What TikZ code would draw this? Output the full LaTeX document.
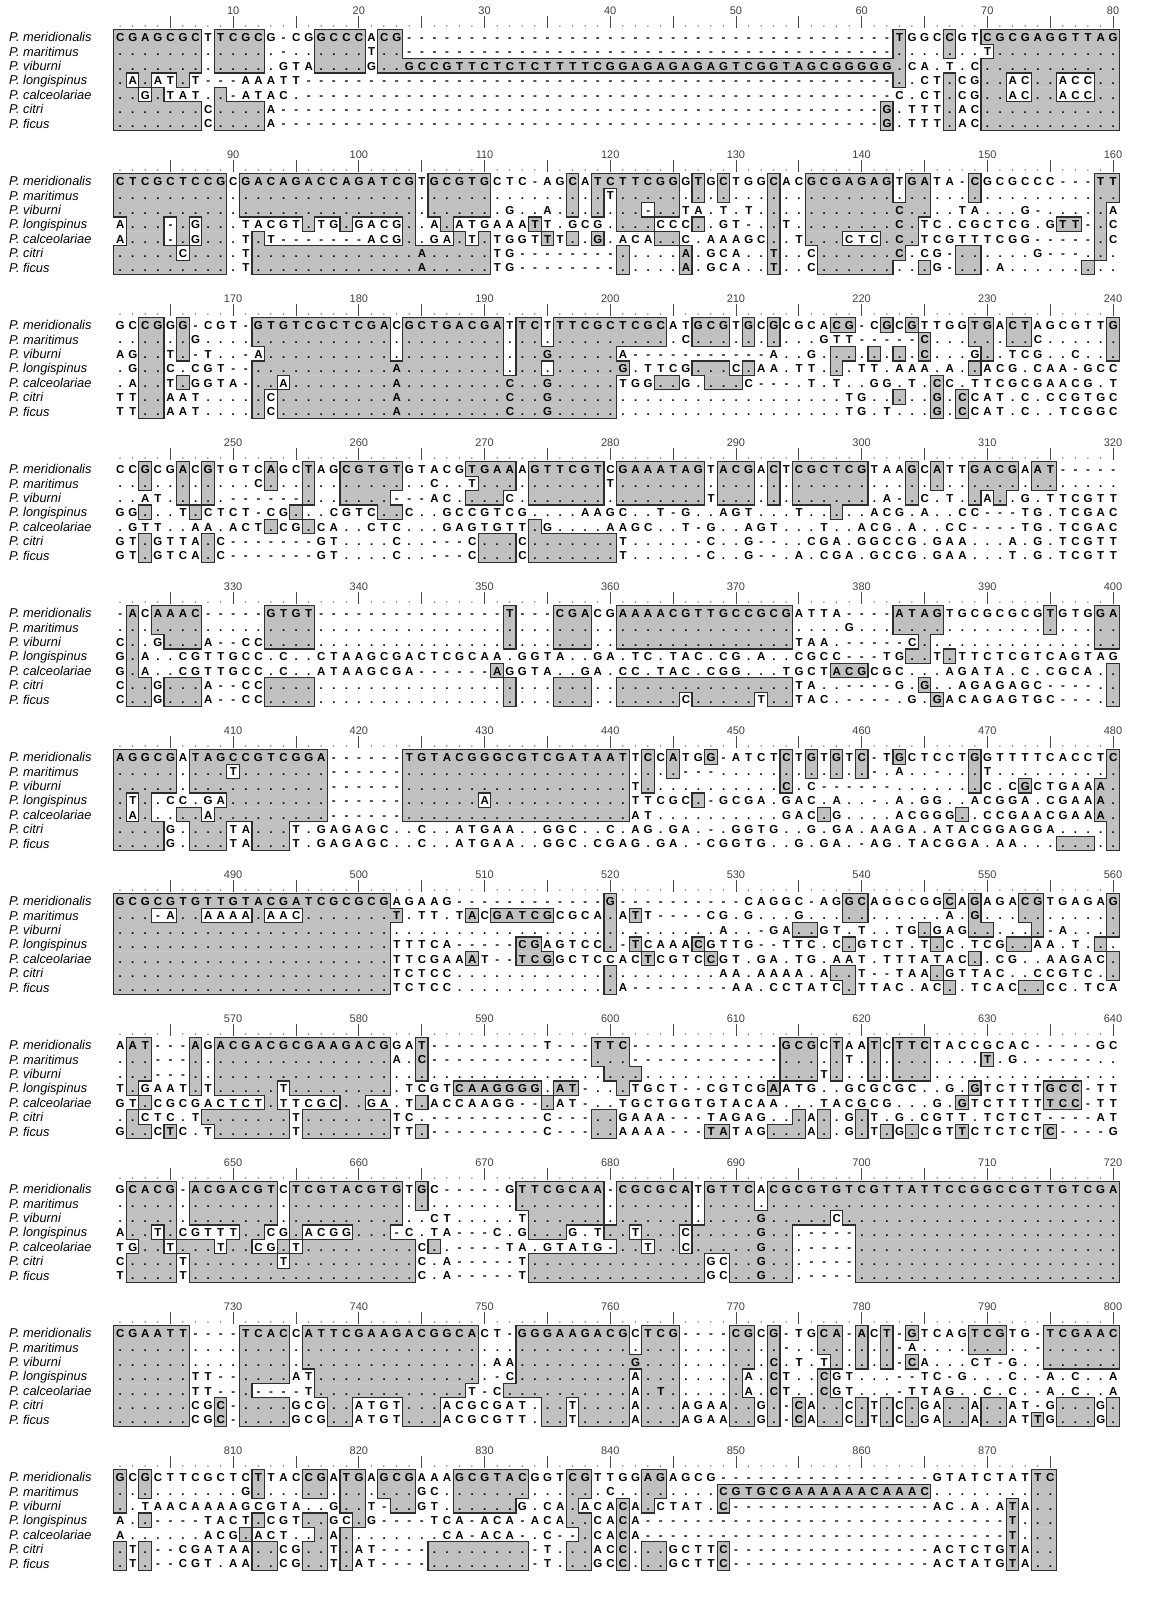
\documentclass[tikz,border=0pt]{standalone}
\usepackage{fontspec}
\setmainfont{Liberation Sans}
\definecolor{boxgray}{RGB}{192,192,192}
\definecolor{boxedge}{RGB}{45,45,45}

\tikzset{
  rowtext/.style={anchor=base west, inner sep=0pt, font=\fontsize{11.5}{12}\selectfont\bfseries},
  spname/.style={anchor=base west, inner sep=0pt, font=\fontsize{12.8}{14}\selectfont\itshape},
  rulenum/.style={anchor=base, inner sep=0pt, font=\fontsize{11}{12}\selectfont, text=black!75},
  boxline/.style={draw=boxedge, line width=1.15pt, line cap=rect},
  ruletick/.style={draw=black!70, line width=0.7pt},
}

% shaded residues: lower case letters, ':' (dot) and '=' (gap)
\def\shadecode#1#2{\expandafter\def\csname sh-#1\endcsname{#2}}
\shadecode aA \shadecode cC \shadecode gG \shadecode tT
\shadecode :. \shadecode ={-}
\def\resbox#1{\hbox to 12.57pt{\hss#1\hss}}

\newcount\colno
\gdef\blocklines{}
\def\seqrow#1#2#3{%
  \colno=0
  \pgfmathsetmacro\rowy{37+144*(#1-1)+14.4*(#2-1)}%
  \pgfmathsetmacro\rowtop{\rowy-7.2}%
  \pgfmathsetmacro\rowbot{\rowy+7.2}%
  \def\rowno{#2}\def\prevsh{0}%
  \def\fillpath{}\def\rowtext{}%
  \seqscan#3\relax
  \ifnum\prevsh=1
    \edef\fillpath{\fillpath (\runstart,\rowtop) rectangle (\cellr,\rowbot+0.3)}%
    \xdef\blocklines{\blocklines (\cellr,\rowtop) -- (\cellr,\rowbot)}%
  \fi
  \ifx\fillpath\empty\else\fill[boxgray] \fillpath;\fi
  \node[rowtext] at (113.715,\rowy+4.4) {\rowtext};
}
\def\seqscan#1{\ifx\relax#1\let\seqnext\relax\else\seqcell{#1}\let\seqnext\seqscan\fi\seqnext}
\def\seqcell#1{%
  \advance\colno by 1
  \pgfmathsetmacro\celll{113.715+(\the\colno-1)*12.57}%
  \pgfmathsetmacro\cellr{\celll+12.57}%
  \ifcsname sh-#1\endcsname
    \edef\cellch{\csname sh-#1\endcsname}\def\cursh{1}%
  \else
    \def\cellch{#1}\def\cursh{0}%
  \fi
  \edef\rowtext{\unexpanded\expandafter{\rowtext}\noexpand\resbox{\cellch}}%
  \edef\abovesh{\ifcsname st-\the\numexpr\rowno-1\relax-\the\colno\endcsname
    \csname st-\the\numexpr\rowno-1\relax-\the\colno\endcsname\else0\fi}%
  \expandafter\xdef\csname st-\rowno-\the\colno\endcsname{\cursh}%
  \ifnum\cursh=\prevsh\else
    \xdef\blocklines{\blocklines (\celll,\rowtop) -- (\celll,\rowbot)}%
    \ifnum\cursh=1 \let\runstart\celll
    \else \edef\fillpath{\fillpath (\runstart,\rowtop) rectangle (\celll,\rowbot+0.3)}\fi
  \fi
  \ifnum\cursh=\abovesh\else\xdef\blocklines{\blocklines (\celll,\rowtop) -- (\cellr,\rowtop)}\fi
  \ifnum\rowno=7 \ifnum\cursh=1 \xdef\blocklines{\blocklines (\celll,\rowbot) -- (\cellr,\rowbot)}\fi\fi
  \let\prevsh\cursh
}
\def\blockend{\ifx\blocklines\empty\else\draw[boxline] \blocklines;\fi\gdef\blocklines{}}

% ruler above each block
\newcount\rc
\def\ruler#1#2{%
  \pgfmathsetmacro\ry{37+144*(#1-1)}%
  \def\tickpath{}\def\dotpath{}%
  \rc=0
  \loop\ifnum\rc<#2 \advance\rc by 1
    \pgfmathsetmacro\rx{120+(\the\rc-1)*12.57}%
    \ifnum\numexpr(\rc/5)*5\relax=\rc
      \edef\tickpath{\tickpath (\rx,\ry-21) -- (\rx,\ry-9)}%
    \else
      \edef\dotpath{\dotpath (\rx,\ry-11) circle[radius=0.75pt]}%
    \fi
    \ifnum\numexpr(\rc/10)*10\relax=\rc
      \node[rulenum] at (\rx,\ry-23) {\the\numexpr80*(#1-1)+\rc\relax};%
    \fi
  \repeat
  \draw[ruletick] \tickpath;
  \fill[black!70] \dotpath;
}

\begin{document}
\begin{tikzpicture}[x=1pt,y=-1pt]
\useasboundingbox (0,0) rectangle (1161,1617);

% species names
\foreach \b in {1,...,11}{
  \foreach \nm [count=\r] in {meridionalis,maritimus,viburni,longispinus,calceolariae,citri,ficus}
    \node[spname] at ({9},{37+144*(\b-1)+14.4*(\r-1)+4.6}) {P.~\nm};
}
\ruler{1}{80}\ruler{2}{80}\ruler{3}{80}\ruler{4}{80}\ruler{5}{80}\ruler{6}{80}
\ruler{7}{80}\ruler{8}{80}\ruler{9}{80}\ruler{10}{80}\ruler{11}{75}

% block 1 (1-80)
\seqrow{1}{1}{cgagcgcTtc gcG-CGgccc Acg------- ---------- ---------- ---------- --tGGCcGTc gcgaggttag}
\seqrow{1}{2}{:::::::.:: ::.-..:::: T::------- ---------- ---------- ---------- --:...:..T ::::::::::}
\seqrow{1}{3}{:::::::.:: ::.GTA:::: G::gccgttc tctcttttcg gagagagagt cggtagcggg gg:CA.T.C: ::::::::::}
\seqrow{1}{4}{:A:AT:T--- AAATT----- ---------- ---------- ---------- ---------- --:.CT:CG: :AC::ACC::}
\seqrow{1}{5}{::G:TAT.:- ATAC.----- ---------- ---------- ---------- ---------- --C.CT:CG: :AC::ACC::}
\seqrow{1}{6}{:::::::C:: ::A------- ---------- ---------- ---------- ---------- -g.TTT:AC: ::::::::::}
\seqrow{1}{7}{:::::::C:: ::A------- ---------- ---------- ---------- ---------- -g.TTT:AC: ::::::::::}
\blockend

% block 2 (81-160)
\seqrow{2}{1}{ctcgctccgC gacagaccag atcgTgcgtg CTC-AGcAtc ttcggGtGcT GGcACgcgag agTgaTA-cG CGCCC---tt}
\seqrow{2}{2}{:::::::::. :::::::::: ::::.::::: ......:.:T :::::.:.:. ..:..::::: ::.::...:. ........::}
\seqrow{2}{3}{:::::::::. :::::::::: ::::.::::: .G..A.:.:. ::-::TA.T. T.:..::::: ::c::..TA. ..G-....:A}
\seqrow{2}{4}{A:::-:G::. TACGT:TG:G ACG:.A:ATG AAAtT.GCG. :::CCC:.GT -.:T.::::: ::c:TC.CGC TCG.Gtt-:C}
\seqrow{2}{5}{A:::-:G::. T:T------- ACG:.GA:T: TGGTtT:.g. ACA::C.AAA GC:.T:::CT C:c:TCGTTT CGG-----:C}
\seqrow{2}{6}{:::::C:::. T::::::::: ::::a::::: TG-------- :....a.GCA ..t..C:::: ::c.CG-::. ...G---.:.}
\seqrow{2}{7}{:::::::::. T::::::::: ::::a::::: TG-------- :....a.GCA ..t..C:::: ::..:G-::. A......:..}
\blockend

% block 3 (161-240)
\seqrow{3}{1}{GCcgGg-CGT -gtgtcgctc gaCgctgacg aTtcTttcgc tcgcATgcgT gCgCGCAcg- CgCgTTGGtg ActAGCGTTg}
\seqrow{3}{2}{..::.:G... .::::::::: ::.::::::: :.::.::::: ::::.C:::. :.:...GTT- ----c...:: .::C.....:}
\seqrow{3}{3}{AG::T:-T.. -A:::::::: ::.::::::: :.::g::::: A--------- --A..G.::. :.:.c...G: .TCG..C..:}
\seqrow{3}{4}{.G::C.CGT- -::::::::: ::a::::::: :.::.::::: g.TTCG:::C :AA.TT.:.T T.AAA.A.:A CG.CAA-GCC}
\seqrow{3}{5}{.A::T:GGTA -::A:::::: ::a::::::: :c::g::::: TGG::G.::: C---.T.T.. GG.T.cC.TT CGCGAACG.T}
\seqrow{3}{6}{TT::AAT... .:C::::::: ::a::::::: :c::g::::: .......... ........TG ..:..g.cCA T.C.CCGTGC}
\seqrow{3}{7}{TT::AAT... .:C::::::: ::a::::::: :c::g::::: .......... ........TG .T...g.cCA T.C..TCGGC}
\blockend

% block 4 (241-320)
\seqrow{4}{1}{CCgCGaCgTG TCaGCtAGcg tgtGTACGtg aaAgttcgtC gaaatagTac gAcTcgctcg TAAgCaTTga cgAat-----}
\seqrow{4}{2}{..:..:.:.. .C:..:..:: :::..C..T: ::.::::::T :::::::.:: :.:.:::::: ...:.:..:: ::.::.....}
\seqrow{4}{3}{..AT.:.:.- -----:..:: ::---AC.:: :C.::::::. :::::::T:: :.:.:::::: .A-:C.T.:A :.G.TTCGTT}
\seqrow{4}{4}{GG:..T:CTC T-CG:..CGT C::C..GCCG TCG....AAG C..T-G..AG T...T..:.. ACG.A..CC- --TG.TCGAC}
\seqrow{4}{5}{.GTT..AA.A CT:CG:CA.. CTC...GAGT GTT:G....A AGC..T-G.. AGT...T..A CG.A..CC-- --TG.TCGAC}
\seqrow{4}{6}{GT:GTTA:C- ------GT.. ..C..---C: ::C::::::: T.....-C.. G--..CGA.G GCCG.GAA.. .A.G.TCGTT}
\seqrow{4}{7}{GT:GTCA:C- ------GT.. ..C..---C: ::C::::::: T.....-C.. G--.A.CGA. GCCG.GAA.. .T.G.TCGTT}
\blockend

% block 5 (321-400)
\seqrow{5}{1}{-aCaaac--- --gtgt---- ---------- -t---cgaCG aaaacgttgc cgcgATTA-- --atagTGCG CGCGtGTGga}
\seqrow{5}{2}{.:.::::... ..::::.... .......... .:...:::.. :::::::::: ::::....G. ..::::.... ....:...::}
\seqrow{5}{3}{C:.G:::A-- CC::::.... .......... .:...:::.. :::::::::: ::::TAA.-- ---C:..... ........::}
\seqrow{5}{4}{G:A..CGTTG CC.C..CTAA GCGACTCGCA A.GGTA..GA .TC.TAC.CG .A..CGCC-- -TG::T:TTC TCGTCAGTAG}
\seqrow{5}{5}{G:A..CGTTG CC.C..ATAA GCGA------ aGGTA..GA. CC.TAC.CGG ...TGCTacg CGC...AGAT A.C.CGCA.:}
\seqrow{5}{6}{C::G:::A-- CC::::.... .......... .:...:::.. :::::::::: ::::TA..-- --G.g..AGA GAGC----.:}
\seqrow{5}{7}{C::G:::A-- CC::::.... .......... .:...:::.. :::::C:::: :T::TAC.-- --.G.gACAG AGTGC---.:}
\blockend

% block 6 (401-480)
\seqrow{6}{1}{aggcgAtagc cgtcgga--- ---tgtacgg gcgtcgataa tTcCaTGg-A TCTcTgTgTc -TgCTCCTgG TTTTCACCTc}
\seqrow{6}{2}{:::::.:::T :::::::--- ---::::::: :::::::::: :.:.:---.. ...:.:.:.: -.A..-..:T .........:}
\seqrow{6}{3}{:::::.:::: :::::::--- ---::::::: :::::::::: :T:....... ...c.C---- --......:C .CgCTGAAa:}
\seqrow{6}{4}{:T:.CC.GA: :::::::--- ---::::::A :::::::::: :TTCGC:-GC GA.GAC.A.. -.A.GG..AC GGA.CGAAa:}
\seqrow{6}{5}{:A:..::A:: :::::::--- ---::::::: :::::::::: :AT....... ...GAC:G.. ..ACGGG:.C CGAACGAAa:}
\seqrow{6}{6}{::::G.:::T A:::T.GAGA GC..C..ATG AA..GGC..C .AG.GA.-.G GTG..G.GA. AAGA.ATACG GAGGA....:}
\seqrow{6}{7}{::::G.:::T A:::T.GAGA GC..C..ATG AA..GGC.CG AG.GA.-CGG TG..G.GA.- AG.TACGGA. AA...:::.:}
\blockend

% block 7 (481-560)
\seqrow{7}{1}{gcgcgtgttg tacgatcgcg cgAGAAG--- ---------g ---------- CAGGC-AGgc AGGCGGcAgA GAcgTGAGAg}
\seqrow{7}{2}{:::-A::AAA A:AAC::::: ::t.TT.TaC gatcgCGCA: AtT----CG. G...G...:: ......A.g. ..::.....:}
\seqrow{7}{3}{:::::::::: :::::::::: ::........ .........: ........A. .-GA::GT.T ..TG:GAG:: ...:-A...:}
\seqrow{7}{4}{:::::::::: :::::::::: ::TTTCA--- --cgAGTCC: -tCAAAcGTT G--TTC.C:G TCT.T:C.TC G::AA.T.:.}
\seqrow{7}{5}{:::::::::: :::::::::: ::TTCGAAaT --tcgGCTCC ACtCGTCcGT .GA.TG.AAT .TTTATAC:. CG..AAGAC:}
\seqrow{7}{6}{:::::::::: :::::::::: ::TCTCC... .........: ........AA .AAAA.A::T --TAA:GTTA C..CCGTC.:}
\seqrow{7}{7}{:::::::::: :::::::::: ::TCTCC... .........: A--------A A.CCTATC:T TAC.AC:.TC AC::CC.TCA}
\blockend

% block 8 (561-640)
\seqrow{8}{1}{Aat---aGac gacgcgaaga cgGAt----- ----T---tt c--------- ---gcgCtAA tCttcTACCG CAC-----GC}
\seqrow{8}{2}{.::---:.:: :::::::::: ::A.c----- --------:: :--------- ---:::.:T. :.:::....t .G.-----..}
\seqrow{8}{3}{.::---:.:: :::::::::: ::..:..... .........: ::........ ...:::T:.. :.:::..... ..........}
\seqrow{8}{4}{T:GAAT:T:: :::T:::::: ::.TCGTcaa gggg.at-.. :TGCT--CGT CGaATG..GC GCGC..G.gT CTTTgcc-TT}
\seqrow{8}{5}{GT:CGCGACT CT:TTCGC:: GA.T:ACCAA GG--:AT-.. TGCTGGTGTA CAA...TACG CG...G.gTC TTTTtcc-TT}
\seqrow{8}{6}{.:CTC.T::: ::::T::::: ::TC.----- ----C---:: GAAA---TAG AG..:A:.G: T.G.CGTT.T CTCT----AT}
\seqrow{8}{7}{G::CtC.T:: ::::T::::: ::TT:----- ----C---:: AAAA---taT AG:::A:.G: T:G:CGTtCT CTCTc----G}
\blockend

% block 9 (641-720)
\seqrow{9}{1}{Gcacg-acga cgtCtcgtac gtgTgC---- -Gttcgcaa- cgcgcaTgtt cAcgcgtgtc gttattccgg ccgttgtcga}
\seqrow{9}{2}{.::::.:::: :::.:::::: :::.:..... ..:::::::. ::::::.::: :.:::::::: :::::::::: ::::::::::}
\seqrow{9}{3}{.::::.:::: :::.:::::: :::..CT... ..T::::::. ::::::.::: :g:::::C:: :::::::::: ::::::::::}
\seqrow{9}{4}{A::T:CGTTT ::CG:ACGG: ::-C.TA--- C.G:::G.T: :T:::C:::: :g::.----: :::::::::: ::::::::::}
\seqrow{9}{5}{TG::T:::T: :CG:T::::: ::::C:.--- -TA.GTATG- ::T::C:::: :g::.----: :::::::::: ::::::::::}
\seqrow{9}{6}{C::::T:::: :::T:::::: ::::C.A--- --T::::::: :::::::GC: :g::.----: :::::::::: ::::::::::}
\seqrow{9}{7}{T::::T:::: :::::::::: ::::C.A--- --T::::::: :::::::GC: :g::.----: :::::::::: ::::::::::}
\blockend

% block 10 (721-800)
\seqrow{10}{1}{cgaatt---- tcacCattcg aagacggcaC T-gggaagac gCtcg----c gCg-TGca-a Ct-gTCAGtc gTG-tcgaac}
\seqrow{10}{2}{::::::.... ::::.::::: :::::::::. ..:::::::: :.:::....: :.:-..::.: .:-A....:: :..-::::::}
\seqrow{10}{3}{::::::.... ::::.::::: :::::::::. AA:::::::: :g:::....: :.c.T.T:.: .:-cA...CT -G..::::::}
\seqrow{10}{4}{::::::TT-- ::::AT:::: :::::::::. -C:::::::: :A:::....: A.cT..cGT. ..--TC-G.. .C.-A.C..A}
\seqrow{10}{5}{::::::TT-- :----T:::: ::::::::T- C::::::::: :A:t:....: A.cT..cGT. ..-TTAG..C .C.-A.C..A}
\seqrow{10}{6}{::::::CGc- ::::GCG::A TGT:::ACGC GAT.::T::: :A:::AGAA: :G:-cA::C: T:C:GA::A: :AT-G:::G:}
\seqrow{10}{7}{::::::CGc- ::::GCG::A TGT:::ACGC GTT.::T::: :A:::AGAA: :G:-cA::C: T:C:GA::A: :ATtG:::G:}
\blockend

% block 11 (801-875)
\seqrow{11}{1}{gCgCTTCGCT CtTACcgAtg AgcgAAAgcg tacGGTcgTT GGagAGCG-- ---------- -----GTATC TATtc}
\seqrow{11}{2}{:.:....... G:...::.:: .:::GC.::: :::...::.C ..::....cg tgcgaaaaaa caaac..... ...::}
\seqrow{11}{3}{:.TAACAAAA GCGTA..G:: T-::GT.::: ::G.CA:ACA cA:CTAT.c- ---------- -----AC.A. AtA::}
\seqrow{11}{4}{A.:----TAC T:CGT::GC: G----TCA-A CA-ACA::CA cA-------- ---------- ---------- -t.::}
\seqrow{11}{5}{A......ACG :ACT..:A:. ......CA-A CA-.C--:CA cA-------- ---------- ---------- -t.::}
\seqrow{11}{6}{:T:--CGATA A::CG::T:A T----::::: :::-T.::AC c.::GCTTc- ---------- -----ACTCT GtA::}
\seqrow{11}{7}{:T:--CGT.A A::CG::T:A T----::::: :::-T.::GC c.::GCTTc- ---------- -----ACTAT GtA::}
\blockend
\end{tikzpicture}
\end{document}
